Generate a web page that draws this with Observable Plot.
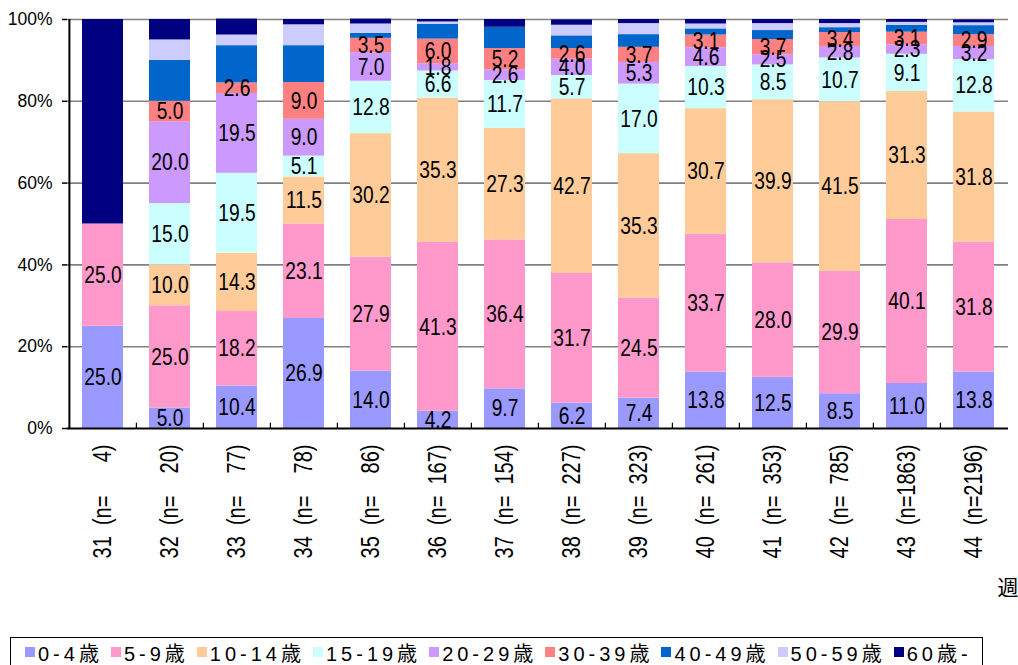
<!DOCTYPE html>
<html>
<head>
<meta charset="utf-8">
<script src="https://cdn.jsdelivr.net/npm/d3@7"></script>
<script src="https://cdn.jsdelivr.net/npm/@observablehq/plot@0.6"></script>
<style>
  html, body { margin: 0; padding: 0; background: #fff; }
  #wrap { position: relative; width: 1018px; height: 665px; overflow: hidden; }
  #legend {
    position: absolute; left: 10px; top: 637px; width: 973px; height: 30px;
    border: 1px solid #000; box-sizing: border-box; background: #fff;
    display: flex; align-items: center; padding-left: 14px;
    font-family: "Liberation Sans", Arial, "Noto Sans CJK JP", sans-serif;
    font-size: 20px; letter-spacing: 4px; color: #000;
  }
  .item { display: flex; align-items: center; margin-right: 8px; white-space: nowrap; }
  .sw { width: 10px; height: 10px; margin-right: 3px; display: inline-block; }
</style>
</head>
<body>
<div id="wrap"><div id="chart"></div><div id="legend"></div></div>
<script>
// ---- data ----
const weeks = ["31","32","33","34","35","36","37","38","39","40","41","42","43","44"];
const counts = [4, 20, 77, 78, 86, 167, 154, 227, 323, 261, 353, 785, 1863, 2196];
const ages = ["0-4歳","5-9歳","10-14歳","15-19歳","20-29歳","30-39歳","40-49歳","50-59歳","60歳-"];
const colors = ["#9999FF","#FF99CC","#FFCC99","#CCFFFF","#CC99FF","#FF8080","#0066CC","#CCCCFF","#000080"];
const age0_4   = [25.0, 5.0, 10.4, 26.9, 14.0, 4.2, 9.7, 6.2, 7.4, 13.8, 12.5, 8.5, 11.0, 13.8];
const age5_9   = [25.0, 25.0, 18.2, 23.1, 27.9, 41.3, 36.4, 31.7, 24.5, 33.7, 28.0, 29.9, 40.1, 31.8];
const age10_14 = [0, 10.0, 14.3, 11.5, 30.2, 35.3, 27.3, 42.7, 35.3, 30.7, 39.9, 41.5, 31.3, 31.8];
const age15_19 = [0, 15.0, 19.5, 5.1, 12.8, 6.6, 11.7, 5.7, 17.0, 10.3, 8.5, 10.7, 9.1, 12.8];
const age20_29 = [0, 20.0, 19.5, 9.0, 7.0, 1.8, 2.6, 4.0, 5.3, 4.6, 2.5, 2.8, 2.3, 3.2];
const age30_39 = [0, 5.0, 2.6, 9.0, 3.5, 6.0, 5.2, 2.6, 3.7, 3.1, 3.7, 3.4, 3.1, 2.9];
const age40_49 = [0, 10.0, 9.1, 9.0, 1.2, 3.6, 5.2, 3.1, 3.1, 1.5, 2.2, 1.2, 1.7, 2.2];
const age50_59 = [0, 5.0, 2.6, 5.1, 2.3, 0.6, 0, 2.6, 2.7, 1.2, 1.7, 1.0, 0.7, 0.7];
const age60    = [50.0, 5.0, 3.9, 1.3, 1.2, 0.6, 1.9, 1.3, 1.0, 1.1, 1.0, 1.0, 0.7, 0.7];
const labeledAges = ["0-4歳","5-9歳","10-14歳","15-19歳","20-29歳","30-39歳"];
const yTicks = [0, 20, 40, 60, 80, 100];
const xTitle = "週";

// ---- table built from arrays ----
const series = [age0_4, age5_9, age10_14, age15_19, age20_29, age30_39, age40_49, age50_59, age60];
const data = [];
weeks.forEach((w, i) => ages.forEach((a, j) => data.push({week: w, age: a, value: series[j][i]})));

const NB = "\u00A0";
const xLabel = new Map(weeks.map((w, i) => {
  const n = String(counts[i]);
  return [w, `${w}${NB}${NB}(n=${NB.repeat(2 * (4 - n.length))}${n})`];
}));

const W = 1018, H = 630, ML = 67, MR = 10, MT = 19, MB = H - 428;
const step = (W - ML - MR) / weeks.length;
const sans = "'Liberation Sans', Arial, sans-serif";

const chart = Plot.plot({
  width: W, height: H,
  marginLeft: ML, marginRight: MR, marginTop: MT, marginBottom: MB,
  style: {background: "#fff", color: "#000", overflow: "visible"},
  x: {domain: weeks, paddingInner: 0.39, paddingOuter: 0.195, axis: null},
  y: {domain: [0, 100], axis: null},
  color: {domain: ages, range: colors},
  marks: [
    Plot.ruleY(yTicks.filter(t => t > 0), {stroke: "#808080", strokeWidth: 1.6}),
    Plot.barY(data, {x: "week", y: "value", fill: "age"}),
    Plot.text(data, Plot.stackY({
      x: "week", y: "value", z: "age",
      filter: d => labeledAges.includes(d.age) && d.value > 0,
      text: d => d.value.toFixed(1),
      fontSize: 24, fontFamily: sans, fill: "#000", className: "narrow"
    })),
    Plot.ruleY([0], {stroke: "#000", strokeWidth: 2}),
    Plot.ruleX(weeks.slice(0, 1), {x: d => d, dx: -step / 2, y1: 0, y2: 100, stroke: "#000", strokeWidth: 2}),
    Plot.ruleX(weeks.slice(1), {x: d => d, dx: -step / 2, y1: 0, y2: 1.3, stroke: "#000", strokeWidth: 1.2}),
    Plot.axisY({ticks: yTicks, tickFormat: d => d + "%", tickSize: 5, tickPadding: 10,
      fontSize: 17.5, fontFamily: sans, label: null, strokeWidth: 1.5}),
    Plot.axisX({tickSize: 0, tickRotate: -90, tickPadding: 16, tickFormat: d => xLabel.get(d),
      fontSize: 25, fontFamily: sans, label: null, className: "narrow"}),
    Plot.text([xTitle], {frameAnchor: "bottom-right", text: d => d, dx: -11, dy: 166,
      textAnchor: "start", fontSize: 21, fontFamily: "'Noto Sans CJK JP', sans-serif", fill: "#000"})
  ]
});
// condense label glyphs (narrow typeface look) along their reading direction
chart.querySelectorAll(".narrow text").forEach(t => {
  const tr = t.getAttribute("transform");
  if (tr && tr.includes("translate")) t.setAttribute("transform", tr + " scale(0.8,1)");
});
document.getElementById("chart").appendChild(chart);

// ---- legend ----
const legend = document.getElementById("legend");
ages.forEach((a, i) => {
  const it = document.createElement("div");
  it.className = "item";
  const sw = document.createElement("span");
  sw.className = "sw";
  sw.style.background = colors[i];
  const tx = document.createElement("span");
  tx.textContent = a;
  it.appendChild(sw); it.appendChild(tx);
  legend.appendChild(it);
});
</script>
</body>
</html>
